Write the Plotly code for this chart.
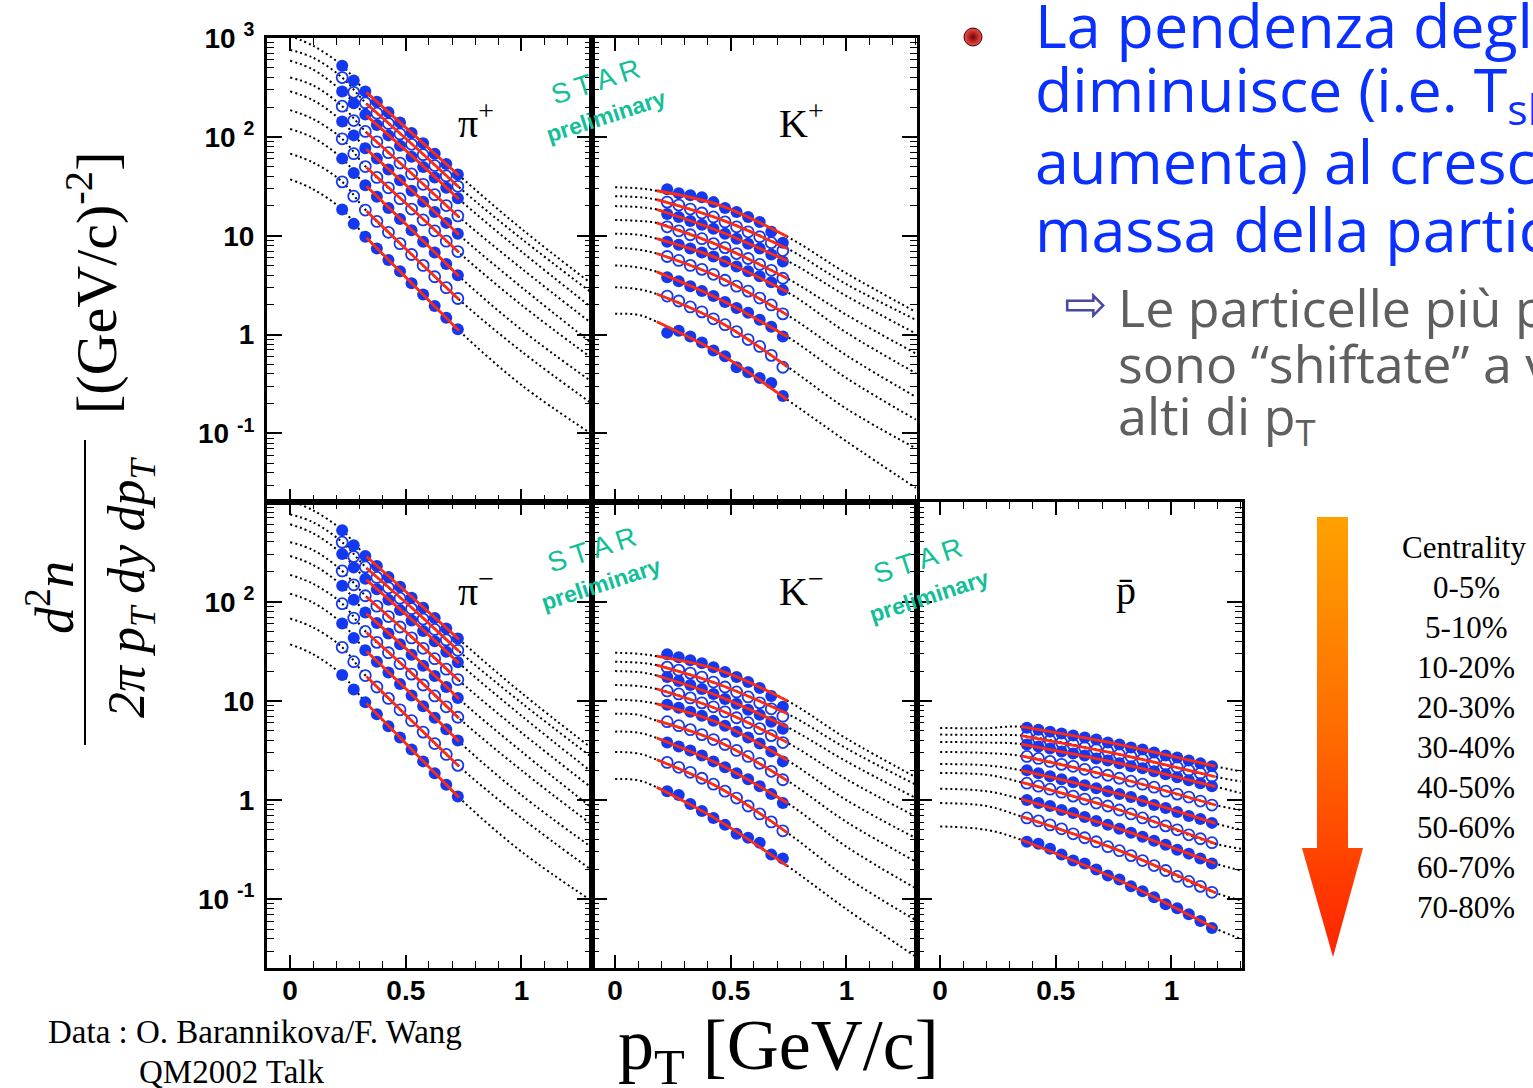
import numpy as np
import plotly.graph_objects as go

# ---------------------------------------------------------------------------
# Identified-particle pT spectra, Au+Au, nine centrality classes
# (0-5%, 5-10%, 10-20%, ..., 70-80%).  Yields are stored as log10 of
# d2n/(2 pi pT dy dpT) in (GeV/c)^-2.
# ---------------------------------------------------------------------------
centralities = ["0-5%", "5-10%", "10-20%", "20-30%", "30-40%",
                "40-50%", "50-60%", "60-70%", "70-80%"]

pt_pion = [0.225, 0.275, 0.325, 0.375, 0.425, 0.475, 0.525, 0.575, 0.625, 0.675, 0.725]
pt_kaon = [0.225, 0.275, 0.325, 0.375, 0.425, 0.475, 0.525, 0.575, 0.625, 0.675, 0.725]
pt_pbar = [0.375, 0.425, 0.475, 0.525, 0.575, 0.625, 0.675, 0.725, 0.775,
           0.825, 0.875, 0.925, 0.975, 1.025, 1.075, 1.125, 1.175]

pip_log10 = [
    [2.72, 2.57, 2.46, 2.355, 2.25, 2.145, 2.04, 1.935, 1.83, 1.725, 1.62],
    [2.60, 2.45, 2.345, 2.24, 2.135, 2.03, 1.925, 1.82, 1.71, 1.605, 1.50],
    [2.46, 2.34, 2.225, 2.12, 2.015, 1.91, 1.80, 1.695, 1.59, 1.485, 1.38],
    [2.31, 2.165, 2.055, 1.95, 1.84, 1.735, 1.625, 1.52, 1.415, 1.305, 1.20],
    [2.155, 2.015, 1.885, 1.78, 1.67, 1.56, 1.455, 1.345, 1.24, 1.13, 1.02],
    [1.98, 1.83, 1.70, 1.59, 1.485, 1.375, 1.27, 1.16, 1.05, 0.945, 0.84],
    [1.78, 1.635, 1.51, 1.395, 1.28, 1.17, 1.055, 0.94, 0.83, 0.715, 0.60],
    [1.545, 1.40, 1.26, 1.145, 1.035, 0.92, 0.81, 0.70, 0.585, 0.475, 0.365],
    [1.265, 1.12, 0.99, 0.87, 0.755, 0.64, 0.52, 0.405, 0.29, 0.17, 0.053],
]
pim_log10 = [
    [2.72, 2.57, 2.46, 2.36, 2.25, 2.15, 2.04, 1.94, 1.835, 1.73, 1.63],
    [2.60, 2.455, 2.35, 2.245, 2.14, 2.035, 1.93, 1.825, 1.72, 1.615, 1.51],
    [2.48, 2.345, 2.23, 2.125, 2.02, 1.915, 1.81, 1.705, 1.60, 1.495, 1.39],
    [2.31, 2.17, 2.06, 1.955, 1.85, 1.745, 1.635, 1.53, 1.425, 1.32, 1.215],
    [2.16, 2.02, 1.89, 1.785, 1.68, 1.57, 1.465, 1.355, 1.25, 1.14, 1.03],
    [1.98, 1.835, 1.70, 1.59, 1.485, 1.375, 1.27, 1.16, 1.05, 0.94, 0.835],
    [1.78, 1.635, 1.51, 1.395, 1.285, 1.17, 1.055, 0.945, 0.83, 0.715, 0.60],
    [1.54, 1.395, 1.255, 1.14, 1.025, 0.91, 0.80, 0.685, 0.57, 0.46, 0.35],
    [1.26, 1.115, 0.985, 0.865, 0.745, 0.63, 0.51, 0.39, 0.27, 0.155, 0.037],
]
kp_log10 = [
    [1.47, 1.43, 1.41, 1.39, 1.34, 1.28, 1.24, 1.19, 1.14, 1.04, 0.93],
    [1.34, 1.31, 1.27, 1.23, 1.19, 1.14, 1.09, 1.04, 0.99, 0.93, 0.85],
    [1.22, 1.19, 1.15, 1.11, 1.07, 1.02, 0.97, 0.92, 0.87, 0.81, 0.74],
    [1.09, 1.05, 1.01, 0.97, 0.92, 0.88, 0.82, 0.77, 0.71, 0.65, 0.57],
    [0.94, 0.91, 0.87, 0.83, 0.79, 0.74, 0.69, 0.64, 0.59, 0.53, 0.45],
    [0.79, 0.75, 0.70, 0.66, 0.61, 0.55, 0.49, 0.44, 0.37, 0.30, 0.21],
    [0.58, 0.54, 0.49, 0.44, 0.39, 0.33, 0.27, 0.22, 0.15, 0.08, -0.02],
    [0.39, 0.34, 0.28, 0.23, 0.16, 0.10, 0.03, -0.05, -0.12, -0.21, -0.33],
    [0.02, 0.04, -0.02, -0.08, -0.16, -0.22, -0.33, -0.38, -0.44, -0.49, -0.62],
]
km_log10 = [
    [1.47, 1.44, 1.41, 1.38, 1.34, 1.29, 1.24, 1.19, 1.13, 1.05, 0.94],
    [1.34, 1.31, 1.28, 1.24, 1.19, 1.14, 1.09, 1.04, 0.98, 0.92, 0.845],
    [1.24, 1.20, 1.16, 1.12, 1.07, 1.02, 0.97, 0.91, 0.86, 0.79, 0.72],
    [1.10, 1.07, 1.03, 0.98, 0.94, 0.89, 0.83, 0.78, 0.72, 0.65, 0.58],
    [0.96, 0.93, 0.89, 0.85, 0.80, 0.75, 0.69, 0.63, 0.57, 0.49, 0.39],
    [0.79, 0.75, 0.71, 0.66, 0.61, 0.56, 0.50, 0.44, 0.37, 0.29, 0.205],
    [0.58, 0.54, 0.50, 0.45, 0.39, 0.33, 0.27, 0.21, 0.14, 0.06, -0.03],
    [0.38, 0.33, 0.28, 0.22, 0.16, 0.09, 0.02, -0.06, -0.14, -0.22, -0.31],
    [0.09, 0.05, -0.04, -0.11, -0.18, -0.25, -0.34, -0.38, -0.43, -0.55, -0.59],
]
pbar_log10 = [
    [0.73, 0.71, 0.69, 0.67, 0.65, 0.63, 0.61, 0.58, 0.56, 0.53, 0.51, 0.48, 0.45, 0.43, 0.40, 0.37, 0.34],
    [0.64, 0.62, 0.60, 0.58, 0.56, 0.53, 0.51, 0.49, 0.46, 0.44, 0.41, 0.38, 0.36, 0.33, 0.30, 0.27, 0.24],
    [0.56, 0.54, 0.52, 0.49, 0.47, 0.45, 0.42, 0.40, 0.37, 0.34, 0.32, 0.29, 0.26, 0.23, 0.20, 0.17, 0.14],
    [0.44, 0.42, 0.39, 0.36, 0.34, 0.31, 0.28, 0.25, 0.22, 0.19, 0.16, 0.13, 0.09, 0.06, 0.03, -0.01, -0.05],
    [0.30, 0.27, 0.24, 0.21, 0.18, 0.15, 0.12, 0.09, 0.06, 0.03, -0.01, -0.05, -0.08, -0.12, -0.16, -0.19, -0.23],
    [0.17, 0.14, 0.11, 0.08, 0.04, 0.01, -0.03, -0.06, -0.10, -0.14, -0.18, -0.22, -0.26, -0.30, -0.35, -0.39, -0.43],
    [0.00, -0.03, -0.06, -0.10, -0.13, -0.17, -0.21, -0.25, -0.29, -0.33, -0.37, -0.41, -0.45, -0.50, -0.54, -0.59, -0.64],
    [-0.18, -0.21, -0.25, -0.29, -0.34, -0.38, -0.42, -0.47, -0.51, -0.56, -0.61, -0.66, -0.71, -0.77, -0.82, -0.87, -0.93],
    [-0.42, -0.44, -0.49, -0.55, -0.61, -0.64, -0.70, -0.76, -0.80, -0.87, -0.92, -0.98, -1.05, -1.09, -1.15, -1.22, -1.29],
]

# Hydro-inspired model curves (knots in pT), solid inside the fit range,
# dotted extrapolation outside it.
pion_model_pt = [0.0, 0.1, 0.225, 0.33, 0.53, 0.73, 1.0, 1.3]
pion_fit_range = (0.33, 0.73)
pip_model_log10 = [
    [3.02, 2.92, 2.72, 2.45, 2.03, 1.61, 1.07, 0.52],
    [2.88, 2.80, 2.60, 2.335, 1.92, 1.49, 0.97, 0.43],
    [2.77, 2.68, 2.46, 2.215, 1.80, 1.37, 0.84, 0.28],
    [2.60, 2.52, 2.31, 2.045, 1.62, 1.19, 0.67, 0.12],
    [2.46, 2.37, 2.155, 1.875, 1.45, 1.01, 0.48, -0.08],
    [2.27, 2.18, 1.98, 1.69, 1.265, 0.83, 0.30, -0.23],
    [2.08, 1.99, 1.78, 1.50, 1.05, 0.59, 0.05, -0.47],
    [1.83, 1.74, 1.545, 1.25, 0.80, 0.355, -0.17, -0.69],
    [1.57, 1.47, 1.265, 0.98, 0.51, 0.04, -0.51, -1.00],
]
pim_model_log10 = [
    [3.02, 2.92, 2.72, 2.455, 2.04, 1.62, 1.08, 0.53],
    [2.88, 2.80, 2.60, 2.34, 1.93, 1.50, 0.98, 0.44],
    [2.78, 2.69, 2.48, 2.22, 1.81, 1.38, 0.85, 0.29],
    [2.60, 2.52, 2.31, 2.05, 1.635, 1.205, 0.68, 0.13],
    [2.46, 2.37, 2.16, 1.88, 1.465, 1.02, 0.49, -0.07],
    [2.27, 2.18, 1.98, 1.69, 1.27, 0.825, 0.30, -0.24],
    [2.08, 1.99, 1.78, 1.50, 1.055, 0.59, 0.05, -0.47],
    [1.83, 1.74, 1.54, 1.245, 0.79, 0.34, -0.18, -0.70],
    [1.57, 1.47, 1.26, 0.975, 0.50, 0.025, -0.52, -1.01],
]

kaon_model_pt = [0.0, 0.1, 0.18, 0.45, 0.745, 1.0, 1.3]
kaon_fit_range = (0.18, 0.745)
kp_model_log10 = [
    [1.49, 1.48, 1.455, 1.31, 0.99, 0.62, 0.23],
    [1.40, 1.39, 1.365, 1.17, 0.87, 0.51, 0.15],
    [1.30, 1.29, 1.265, 1.045, 0.745, 0.39, 0.01],
    [1.16, 1.15, 1.13, 0.90, 0.567, 0.20, -0.19],
    [1.02, 1.01, 0.97, 0.765, 0.43, 0.02, -0.39],
    [0.88, 0.86, 0.82, 0.58, 0.197, -0.21, -0.63],
    [0.70, 0.68, 0.635, 0.36, -0.022, -0.44, -0.86],
    [0.48, 0.46, 0.41, 0.13, -0.325, -0.75, -1.15],
    [0.21, 0.20, 0.13, -0.19, -0.66, -1.08, -1.55],
]
km_model_log10 = [
    [1.485, 1.475, 1.45, 1.31, 1.00, 0.62, 0.23],
    [1.395, 1.385, 1.36, 1.165, 0.87, 0.52, 0.155],
    [1.30, 1.29, 1.256, 1.045, 0.735, 0.39, 0.02],
    [1.16, 1.15, 1.12, 0.91, 0.58, 0.21, -0.165],
    [1.013, 1.00, 0.97, 0.775, 0.40, 0.00, -0.384],
    [0.87, 0.86, 0.80, 0.585, 0.195, -0.22, -0.62],
    [0.69, 0.68, 0.626, 0.36, -0.03, -0.47, -0.89],
    [0.485, 0.47, 0.407, 0.125, -0.33, -0.78, -1.21],
    [0.212, 0.20, 0.128, -0.21, -0.665, -1.10, -1.58],
]

pbar_model_pt = [0.0, 0.2, 0.35, 0.775, 1.19, 1.3]
pbar_fit_range = (0.35, 1.19)
pbar_model_log10 = [
    [0.727, 0.725, 0.74, 0.56, 0.34, 0.29],
    [0.66, 0.655, 0.65, 0.46, 0.235, 0.188],
    [0.586, 0.58, 0.565, 0.37, 0.135, 0.07],
    [0.485, 0.475, 0.445, 0.22, -0.05, -0.10],
    [0.363, 0.35, 0.30, 0.06, -0.235, -0.30],
    [0.273, 0.255, 0.18, -0.10, -0.44, -0.49],
    [0.114, 0.09, 0.01, -0.29, -0.64, -0.71],
    [-0.03, -0.06, -0.165, -0.51, -0.935, -1.01],
    [-0.266, -0.30, -0.40, -0.81, -1.295, -1.40],
]

# ---------------------------------------------------------------------------
W, H = 1533, 1088
BLUE = "#1438f0"
RED = "#ff2a10"
TEAL = "#12bf97"
SERIF = "Liberation Serif, Times New Roman, serif"
SANS = "Liberation Sans, Arial, sans-serif"


def px_x(x):
    return x / W


def px_y(y):
    return 1 - y / H


panels = [
    dict(ax=("x", "y"), pt=pt_pion, data=pip_log10,
         mpt=pion_model_pt, model=pip_model_log10, fit=pion_fit_range),
    dict(ax=("x2", "y2"), pt=pt_kaon, data=kp_log10,
         mpt=kaon_model_pt, model=kp_model_log10, fit=kaon_fit_range),
    dict(ax=("x3", "y3"), pt=pt_pion, data=pim_log10,
         mpt=pion_model_pt, model=pim_model_log10, fit=pion_fit_range),
    dict(ax=("x4", "y4"), pt=pt_kaon, data=km_log10,
         mpt=kaon_model_pt, model=km_model_log10, fit=kaon_fit_range),
    dict(ax=("x5", "y5"), pt=pt_pbar, data=pbar_log10,
         mpt=pbar_model_pt, model=pbar_model_log10, fit=pbar_fit_range),
]

fig = go.Figure()

for p in panels:
    xa, ya = p["ax"]
    mpt = np.array(p["mpt"])
    lo, hi = p["fit"]
    sel = (mpt >= lo - 1e-9) & (mpt <= hi + 1e-9)
    # dotted model extrapolations
    for curve in p["model"]:
        fig.add_trace(go.Scatter(
            x=mpt, y=10 ** np.array(curve), mode="lines", xaxis=xa, yaxis=ya,
            line=dict(color="black", width=2, dash="2px,3px", shape="spline"),
            showlegend=False, hoverinfo="skip"))
    # measured points: alternating filled / open per centrality class
    for i, (vals, cent) in enumerate(zip(p["data"], centralities)):
        filled = (i % 2 == 0)
        fig.add_trace(go.Scatter(
            x=p["pt"], y=10 ** np.array(vals), mode="markers", xaxis=xa, yaxis=ya,
            name=cent,
            marker=dict(symbol="circle" if filled else "circle-open",
                        size=12 if filled else 11, color=BLUE,
                        line=dict(width=0 if filled else 1.8, color=BLUE)),
            showlegend=False))
    # fitted part of the model curves
    for curve in p["model"]:
        fig.add_trace(go.Scatter(
            x=mpt[sel], y=(10 ** np.array(curve))[sel], mode="lines",
            xaxis=xa, yaxis=ya,
            line=dict(color=RED, width=2.8, shape="spline"),
            showlegend=False, hoverinfo="skip"))

# ---------------------------------------------------------------------------
# centrality arrow and bullet on a full-page overlay
arrow_x = [1317, 1348, 1348, 1363, 1333, 1302, 1317, 1317]
arrow_y = [517, 517, 848, 848, 957, 848, 848, 517]
fig.add_trace(go.Scatter(
    x=arrow_x, y=[H - v for v in arrow_y], mode="lines", fill="toself",
    fillgradient=dict(type="vertical",
                      colorscale=[[0, "#ff2200"], [0.5, "#ff6a00"], [1, "#ffa200"]]),
    line=dict(width=0, color="rgba(0,0,0,0)"),
    xaxis="x6", yaxis="y6", showlegend=False, hoverinfo="skip"))
fig.add_trace(go.Scatter(
    x=[973], y=[H - 37], mode="markers", xaxis="x6", yaxis="y6",
    marker=dict(size=18, color="#f05050",
                gradient=dict(type="radial", color="#7a0000"),
                line=dict(width=1, color="#400000")),
    showlegend=False, hoverinfo="skip"))

# ---------------------------------------------------------------------------
# axes
x_minor = [round(v, 2) for v in np.arange(-0.1, 1.31, 0.1) if abs(v * 2 - round(v * 2)) > 1e-6]
y_minor = [k * 10.0 ** e for e in range(-2, 3) for k in range(2, 10)]
tickfont = dict(family=SANS, size=28, color="black", weight="bold")

col_dom = [[267 / W, 592 / W], [592 / W, 917 / W], [917 / W, 1242 / W]]
row_top = [1 - 502 / H, 1 - 37.5 / H]
row_bot = [1 - 968 / H, 1 - 502 / H]


def xaxis_cfg(dom, anchor, labels):
    return dict(domain=dom, anchor=anchor, range=[-0.1, 1.305], automargin=False,
                showline=True, linewidth=3, linecolor="black", mirror="allticks",
                ticks="inside", ticklen=13, tickwidth=1.6, tickcolor="black",
                tickmode="array", tickvals=[0, 0.5, 1], ticktext=["0", "0.5", "1"],
                showticklabels=labels, tickfont=tickfont, ticklabelstandoff=-5,
                minor=dict(ticks="inside", ticklen=7, tickwidth=1.4, tickcolor="black",
                           tickmode="array", tickvals=x_minor, showgrid=False),
                showgrid=False, zeroline=False, fixedrange=True)


def yaxis_cfg(dom, anchor, tickvals):
    labels = {0.1: "10 <sup>-1</sup>", 1: "1", 10: "10",
              100: "10 <sup>2</sup>", 1000: "10 <sup>3</sup>"}
    vals = tickvals or [0.1, 1, 10, 100, 1000]
    return dict(domain=dom, anchor=anchor, type="log", range=[-1.693, 3.005],
                automargin=False,
                showline=True, linewidth=3, linecolor="black", mirror="allticks",
                ticks="inside", ticklen=15, tickwidth=1.6, tickcolor="black",
                tickmode="array", tickvals=vals, ticktext=[labels[v] for v in vals],
                showticklabels=bool(tickvals), tickfont=tickfont, ticklabelstandoff=4,
                minor=dict(ticks="inside", ticklen=7, tickwidth=1.4, tickcolor="black",
                           tickmode="array", tickvals=y_minor, showgrid=False),
                showgrid=False, zeroline=False, fixedrange=True)


layout = dict(
    width=W, height=H, margin=dict(l=0, r=0, t=0, b=0, autoexpand=False),
    paper_bgcolor="white", plot_bgcolor="rgba(0,0,0,0)", showlegend=False,
    xaxis=xaxis_cfg(col_dom[0], "y", False),
    yaxis=yaxis_cfg(row_top, "x", [0.1, 1, 10, 100, 1000]),
    xaxis2=xaxis_cfg(col_dom[1], "y2", False),
    yaxis2=yaxis_cfg(row_top, "x2", None),
    xaxis3=xaxis_cfg(col_dom[0], "y3", True),
    yaxis3=yaxis_cfg(row_bot, "x3", [0.1, 1, 10, 100]),
    xaxis4=xaxis_cfg(col_dom[1], "y4", True),
    yaxis4=yaxis_cfg(row_bot, "x4", None),
    xaxis5=xaxis_cfg(col_dom[2], "y5", True),
    yaxis5=yaxis_cfg(row_bot, "x5", None),
    xaxis6=dict(domain=[0, 1], anchor="y6", range=[0, W], visible=False,
                fixedrange=True, automargin=False),
    yaxis6=dict(domain=[0, 1], anchor="x6", range=[0, H], visible=False,
                fixedrange=True, automargin=False),
)
fig.update_layout(**layout)

# ---------------------------------------------------------------------------
ann = []


def text(t, x, y, size, family=SERIF, color="black", angle=0, xanchor="center",
         yanchor="middle", weight="normal"):
    ann.append(dict(text=t, x=px_x(x), y=px_y(y), xref="paper", yref="paper",
                    showarrow=False, xanchor=xanchor, yanchor=yanchor,
                    textangle=angle,
                    font=dict(family=family, size=size, color=color, weight=weight)))


# particle labels
text("π<sup>+</sup>", 476, 120, 40)
text("K<sup>+</sup>", 801, 120, 40)
text("π<sup>−</sup>", 476, 588, 40)
text("K<sup>−</sup>", 801, 588, 40)
text("p\u0304", 1126, 590, 40)

# STAR preliminary stamps
for sx, sy, px_, py_ in [(596, 82, 606, 116), (592, 549, 601, 584), (918, 560, 929, 596)]:
    text("S\u2009T\u2009A\u2009R", sx, sy, 28, family=SANS, color=TEAL, angle=-18)
    text("preliminary", px_, py_, 23, family=SANS, color=TEAL, angle=-18, weight="bold")

# y-axis title, set as a fraction
text("<i>d</i><sup>2</sup><i>n</i>", 50, 598, 54, angle=-90)
text("<i>2π p</i><sub><i>T</i></sub><i> dy dp</i><sub><i>T</i></sub>", 130, 588, 52, angle=-90)
text("[(GeV/c)<sup>-2</sup>]", 92, 283, 58, angle=-90)

# x-axis title and credits
text("p<sub>T</sub> [GeV/c]", 778, 1050, 72)
text("Data : O. Barannikova/F. Wang", 46, 1032, 33, xanchor="left")
text("QM2002 Talk", 137, 1072, 33, xanchor="left")

# centrality legend
text("Centrality", 1464, 547, 31)
for k, c in enumerate(centralities):
    text(c, 1466, 587 + 40 * k, 31)

# side notes
BLUE_TXT = "#0a30ff"
HAND = "Open Sans, Noto Sans, sans-serif"
for t, y in [("La pendenza degli spettri", 24), ("diminuisce (i.e. T<sub>slope</sub>", 92),
             ("aumenta) al crescere della", 160), ("massa della particella", 229)]:
    text(t, 1033, y, 61, family=HAND, color=BLUE_TXT, xanchor="left")
text("\u21e8", 1086, 304, 52, family="DejaVu Sans", color="#4848a8")
for t, y in [("Le particelle più pesanti", 306), ("sono “shiftate” a valori", 362),
             ("alti di p<sub>T</sub>", 418)]:
    text(t, 1116, y, 52, family=HAND, color="#5f5f5f", xanchor="left")

fig.update_layout(
    annotations=ann,
    shapes=[dict(type="line", xref="paper", yref="paper",
                 x0=px_x(85), x1=px_x(85), y0=px_y(440), y1=px_y(745),
                 line=dict(color="black", width=2))])

fig.write_html("out.html")
